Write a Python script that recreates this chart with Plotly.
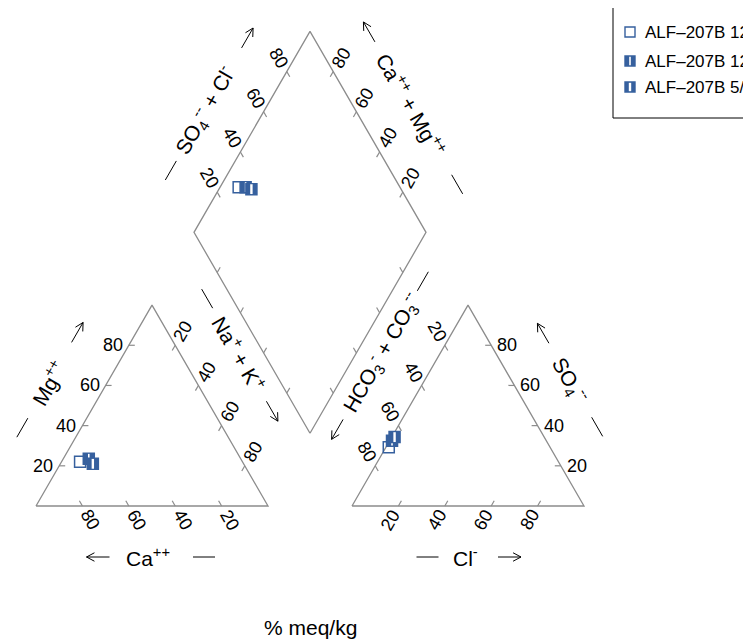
import math
import plotly.graph_objects as go

# ---------------- data ----------------
sample_names = ["ALF\u2013207B 12", "ALF\u2013207B 12", "ALF\u2013207B 5/2"]
ca_pct = [70.0, 65.5, 65.0]
mg_pct = [22.0, 23.5, 21.0]
nak_pct = [8.0, 11.0, 14.0]
hco3_pct = [69.5, 66.5, 64.5]
so4_pct = [29.3, 32.5, 34.3]
cl_pct = [1.2, 1.0, 1.2]
tick_values = [20, 40, 60, 80]
units_title = "% meq/kg"

# ---------------- geometry / style ----------------
W, H = 751, 644
PAGE = 8              # default page margin of the html body
PX = 232.0            # pixels per unit triangle side
X0, Y0 = 36.0 - PAGE, 506.0 - PAGE  # figure pixel of left triangle's left corner
S3 = math.sqrt(3) / 2
GAP = 84 / 232
OFF = 1 + GAP
BOT = (1 + GAP / 2, GAP * S3)
LEFT = (BOT[0] - 0.5, BOT[1] + S3)
TOP = (BOT[0], BOT[1] + 2 * S3)
RIGHT = (BOT[0] + 0.5, BOT[1] + S3)

EDGE_COLOR = "#8c8c8c"
MARK_COLOR = "#36609e"
FONT = "Liberation Sans, Arial, sans-serif"
TICK_FONT = 18
TITLE_FONT = 21
TL = 6 / PX      # tick length
LO = 16 / PX     # label offset


def to_data(px, py):
    """window pixel -> data units"""
    return (px - PAGE - X0) / PX, (Y0 - (py - PAGE)) / PX


fig = go.Figure()
annotations = []

# ---- outlines ----
ex, ey = [], []
for poly in [
    [(0, 0), (1, 0), (0.5, S3), (0, 0)],
    [(OFF, 0), (OFF + 1, 0), (OFF + 0.5, S3), (OFF, 0)],
    [BOT, RIGHT, TOP, LEFT, BOT],
]:
    for p in poly:
        ex.append(p[0]); ey.append(p[1])
    ex.append(None); ey.append(None)

# ---- ticks and tick labels ----
tx, ty = [], []


def axis(point_fn, inward, angle, label=True):
    for v in tick_values:
        f = v / 100
        x, y = point_fn(f)
        tx.extend([x, x + inward[0] * TL, None])
        ty.extend([y, y + inward[1] * TL, None])
        if label:
            annotations.append(dict(
                x=x - inward[0] * LO, y=y - inward[1] * LO, xref="x", yref="y",
                text=str(v), showarrow=False, textangle=angle,
                xanchor="center", yanchor="middle",
                font=dict(size=TICK_FONT, color="black", family=FONT)))


# cation triangle
axis(lambda f: (1 - f, 0), (-0.5, S3), 60)                          # Ca
axis(lambda f: (f / 2, f * S3), (1, 0), 0)                           # Mg
axis(lambda f: (f + (1 - f) / 2, (1 - f) * S3), (-0.5, -S3), -60)   # Na+K
# anion triangle
axis(lambda f: (OFF + f, 0), (0.5, S3), -60)                         # Cl
axis(lambda f: (OFF + 1 - f / 2, f * S3), (-1, 0), 0)                # SO4
axis(lambda f: (OFF + (1 - f) / 2, (1 - f) * S3), (0.5, -S3), 60)    # HCO3
# diamond
axis(lambda f: (LEFT[0] + 0.5 * f, LEFT[1] + S3 * f), (0.5, -S3), 60)             # SO4+Cl
axis(lambda f: (TOP[0] + 0.5 * (1 - f), TOP[1] - S3 * (1 - f)), (-0.5, -S3), -60)  # Ca+Mg
axis(lambda f: (LEFT[0] + 0.5 * f, LEFT[1] - S3 * f), (0.5, S3), 0, label=False)
axis(lambda f: (BOT[0] + 0.5 * (1 - f), BOT[1] + S3 * (1 - f)), (-0.5, S3), 0, label=False)

fig.add_trace(go.Scatter(x=ex, y=ey, mode="lines", line=dict(color=EDGE_COLOR, width=1.3),
                         hoverinfo="skip"))
fig.add_trace(go.Scatter(x=tx, y=ty, mode="lines", line=dict(color=EDGE_COLOR, width=1.2),
                         hoverinfo="skip"))

# ---- axis titles (text + drawn arrow and dash) ----
gx, gy = [], []
ARROW_LEN = 23
HEAD_LEN = 9
DASH_LEN = 22


def seg(p0, p1):
    gx.extend([p0[0], p1[0], None])
    gy.extend([p0[1], p1[1], None])


def title(mid, upx, npx, text, a_text, a_arrow, arrow_sign, a_dash, dist=51):
    angle = math.degrees(math.atan2(upx[1], upx[0]))

    def at(a):
        ox = a * upx[0] + dist * npx[0]
        oy = a * upx[1] + dist * npx[1]
        return mid[0] + ox / PX, mid[1] - oy / PX

    cx, cy = at(a_text)
    annotations.append(dict(
        x=cx, y=cy, xref="x", yref="y", text=text, showarrow=False, textangle=angle,
        xanchor="center", yanchor="middle",
        font=dict(size=TITLE_FONT, color="black", family=FONT)))
    ud = (upx[0], -upx[1])   # data-space unit vector along reading direction
    # dash
    dx, dy = at(a_dash)
    h = DASH_LEN / 2 / PX
    seg((dx - ud[0] * h, dy - ud[1] * h), (dx + ud[0] * h, dy + ud[1] * h))
    # arrow (points along arrow_sign * u)
    ax_, ay_ = at(a_arrow)
    d = (ud[0] * arrow_sign, ud[1] * arrow_sign)
    h = ARROW_LEN / 2 / PX
    tail = (ax_ - d[0] * h, ay_ - d[1] * h)
    tip = (ax_ + d[0] * h, ay_ + d[1] * h)
    seg(tail, tip)
    for s in (1, -1):
        ang = math.radians(28) * s
        bx_ = -(d[0] * math.cos(ang) - d[1] * math.sin(ang))
        by_ = -(d[0] * math.sin(ang) + d[1] * math.cos(ang))
        seg(tip, (tip[0] + bx_ * HEAD_LEN / PX, tip[1] + by_ * HEAD_LEN / PX))


title((0.5, 0), (1, 0), (0, 1), "Ca<sup>++</sup>", -4, -54, -1, 52)
title((OFF + 0.5, 0), (1, 0), (0, 1), "Cl<sup>-</sup>", -2.5, 41.5, 1, -40.5)
title((0.25, S3 / 2), (0.5, -S3), (-S3, -0.5), "Mg<sup>++</sup>", -3, 55, 1, -55)
title((OFF + 0.75, S3 / 2), (0.5, S3), (S3, -0.5), "SO<sub>4</sub><sup>--</sup>", 0, -54, -1, 54)
title((0.75, S3 / 2), (0.5, S3), (S3, -0.5), "Na<sup>+</sup> + K<sup>+</sup>", -31, 36, 1, -94)
title((OFF + 0.25, S3 / 2), (0.5, -S3), (-S3, -0.5),
      "HCO<sub>3</sub><sup>-</sup> + CO<sub>3</sub><sup>--</sup>", 32, -57, -1, 114)
title(((LEFT[0] + TOP[0]) / 2, (LEFT[1] + TOP[1]) / 2), (0.5, -S3), (-S3, -0.5),
      "SO<sub>4</sub><sup>--</sup> + Cl<sup>-</sup>", -5, 79, 1, -74)
title(((TOP[0] + RIGHT[0]) / 2, (TOP[1] + RIGHT[1]) / 2), (0.5, S3), (S3, -0.5),
      "Ca<sup>++</sup> + Mg<sup>++</sup>", -2.5, -86, -1, 90)

fig.add_trace(go.Scatter(x=gx, y=gy, mode="lines", line=dict(color="black", width=1),
                         hoverinfo="skip"))

bx, by = to_data(310, 627)
annotations.append(dict(x=bx, y=by, xref="x", yref="y", text=units_title, showarrow=False,
                        xanchor="center", yanchor="middle",
                        font=dict(size=TITLE_FONT, color="black", family=FONT)))

# ---- data points ----
styles = [("square-open", None), ("square", 1.6), ("square", 2.4)]
MS = 11
for i in range(len(sample_names)):
    cat_t = ca_pct[i] + mg_pct[i] + nak_pct[i]
    an_t = hco3_pct[i] + so4_pct[i] + cl_pct[i]
    mg_f, na_f = mg_pct[i] / cat_t, nak_pct[i] / cat_t
    so4_f, cl_f = so4_pct[i] / an_t, cl_pct[i] / an_t
    s_f = so4_f + cl_f
    xs = [na_f + mg_f / 2,
          OFF + cl_f + so4_f / 2,
          LEFT[0] + 0.5 * na_f + 0.5 * s_f]
    ys = [mg_f * S3,
          so4_f * S3,
          LEFT[1] - S3 * na_f + S3 * s_f]
    sym, stripe = styles[i]
    fig.add_trace(go.Scatter(
        x=xs, y=ys, mode="markers",
        marker=dict(symbol=sym, size=MS, color=MARK_COLOR,
                    line=dict(color=MARK_COLOR, width=1.5)),
        hoverinfo="skip"))
    if stripe:
        fig.add_trace(go.Scatter(
            x=xs, y=ys, mode="markers",
            marker=dict(symbol="line-ns-open", size=7, color="white",
                        line=dict(color="white", width=stripe)),
            hoverinfo="skip"))

# ---- legend (box runs past the window edge) ----
lx0, ly0 = to_data(613, 5)
lx1, ly1 = to_data(800, 118)
shapes = [dict(type="rect", xref="x", yref="y", x0=lx0, y0=ly0, x1=lx1, y1=ly1,
               line=dict(color="black", width=1), fillcolor="rgba(0,0,0,0)")]
row_y = [32, 61, 87]
for i, name in enumerate(sample_names):
    mx, my = to_data(630, row_y[i])
    sym, stripe = styles[i]
    fig.add_trace(go.Scatter(x=[mx], y=[my], mode="markers",
                             marker=dict(symbol=sym, size=10, color=MARK_COLOR,
                                         line=dict(color=MARK_COLOR, width=1.4)),
                             hoverinfo="skip"))
    if stripe:
        fig.add_trace(go.Scatter(x=[mx], y=[my], mode="markers",
                                 marker=dict(symbol="line-ns-open", size=6, color="white",
                                             line=dict(color="white", width=stripe)),
                                 hoverinfo="skip"))
    tx_, ty_ = to_data(643, row_y[i])
    annotations.append(dict(x=tx_, y=ty_, xref="x", yref="y", text=name, showarrow=False,
                            xanchor="left", yanchor="middle",
                            font=dict(size=17, color="black", family=FONT)))

fig.update_layout(
    width=W, height=H, margin=dict(l=0, r=0, t=0, b=0),
    paper_bgcolor="white", plot_bgcolor="white", showlegend=False,
    xaxis=dict(range=[-X0 / PX, (W - X0) / PX], visible=False, fixedrange=True),
    yaxis=dict(range=[(Y0 - H) / PX, Y0 / PX], visible=False, fixedrange=True),
    annotations=annotations, shapes=shapes,
)

fig.write_html("out.html")
